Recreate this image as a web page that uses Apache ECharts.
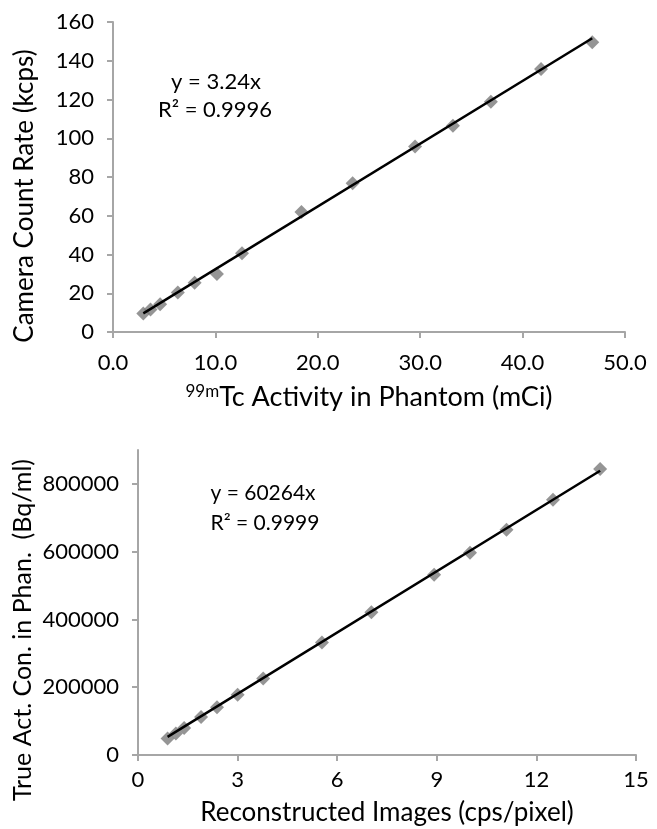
<!DOCTYPE html>
<html>
<head>
<meta charset="utf-8">
<script src="https://cdn.jsdelivr.net/npm/echarts@6/dist/echarts.min.js"></script>
<style>
html,body{margin:0;padding:0;background:#fff;}
#chart{width:657px;height:829px;}
</style>
</head>
<body>
<div id="chart"></div>
<script>
// Top chart: 99mTc activity vs camera count rate
var topActivity = [2.96, 3.66, 4.6, 6.33, 7.97, 10.15, 12.6, 18.4, 23.4, 29.5, 33.2, 36.9, 41.8, 46.8];
var topCountRate = [9.5, 11.6, 14.3, 20.4, 25.4, 29.9, 40.6, 62, 76.8, 95.8, 106.5, 118.8, 135.8, 149.6];
var topSlope = 3.24;
var topEqText = ['y = 3.24x', 'R² = 0.9996'];
var topYTitle = 'Camera Count Rate (kcps)';
var topYTicks = [0, 20, 40, 60, 80, 100, 120, 140, 160];
var topXTicks = [0, 10, 20, 30, 40, 50];

// Bottom chart: reconstructed images vs true activity concentration
var botRecon = [0.89, 1.14, 1.39, 1.9, 2.38, 3.0, 3.77, 5.54, 7.03, 8.92, 10.0, 11.1, 12.5, 13.92];
var botTrueAct = [48800, 63400, 80000, 112000, 141000, 177600, 226000, 331700, 421000, 531700, 597000, 665000, 753000, 844000];
var botSlope = 60264;
var botEqText = ['y = 60264x', 'R² = 0.9999'];
var botYTitle = 'True Act. Con. in Phan.  (Bq/ml)';
var botYTicks = [0, 200000, 400000, 600000, 800000];
var botXTicks = [0, 3, 6, 9, 12, 15];

var FONT = 'Lato';
var AXIS_COLOR = '#a6a6a6';
var MARK_COLOR = '#7a7a7a';

function pairs(xs, ys){ return xs.map(function(x,i){ return [x, ys[i]]; }); }
function fitLine(xs, slope){
  var lo = Math.min.apply(null, xs), hi = Math.max.apply(null, xs);
  return [[lo, lo*slope],[hi, hi*slope]];
}

var chart = echarts.init(document.getElementById('chart'), null, {renderer:'canvas'});

function makeAxis(opts, ticks, margin, fmt){
  return Object.assign({
    type:'value',
    axisLine:{show:true, lineStyle:{color:AXIS_COLOR, width:2}},
    axisTick:{show:true, inside:false, length:6, lineStyle:{color:AXIS_COLOR, width:2}, customValues:ticks},
    splitLine:{show:false},
    axisLabel:{color:'#000', fontFamily:FONT, fontSize:22, margin:margin, customValues:ticks,
      formatter: fmt || function(v){ return String(v); }}
  }, opts);
}

var xTop = makeAxis({
  gridIndex:0, min:0, max:50, interval:10,
  name:'{sup|99m}{t|Tc Activity in Phantom (mCi)}', nameLocation:'middle', nameGap:51,
  nameTextStyle:{rich:{sup:{fontFamily:FONT, fontSize:17, verticalAlign:'top', padding:[0,0,12,0], color:'#000'}, t:{fontFamily:FONT, fontSize:27, color:'#000'}}}
}, topXTicks, 20, function(v){ return v.toFixed(1); });
var yTop = makeAxis({
  gridIndex:0, min:0, max:160, interval:20
}, topYTicks, 19);
var xBot = makeAxis({
  gridIndex:1, min:0, max:15, interval:3,
  name:'Reconstructed Images (cps/pixel)', nameLocation:'middle', nameGap:45,
  nameTextStyle:{fontFamily:FONT, fontSize:26, color:'#000'}
}, botXTicks, 14);
var yBot = makeAxis({
  gridIndex:1, min:0, max:900000, interval:100000
}, botYTicks, 19);

function eqText(x, y, txt, size){
  return {type:'text', x:x, y:y, style:{text:txt, fontFamily:FONT, fontSize:size, fill:'#000', align:'center', verticalAlign:'middle'}};
}
function yTitle(x, y, txt, size){
  return {type:'text', x:x, y:y, rotation:Math.PI/2, style:{text:txt, fontFamily:FONT, fontSize:size, fill:'#000', align:'center', verticalAlign:'middle'}};
}

chart.setOption({
  animation:false,
  backgroundColor:'#fff',
  grid:[
    {left:113, right:32, top:22, bottom:497, containLabel:false},
    {left:138, right:21, top:450, bottom:74, containLabel:false}
  ],
  xAxis:[xTop, xBot],
  yAxis:[yTop, yBot],
  graphic:[
    eqText(216, 82, topEqText[0], 22),
    eqText(215, 110, topEqText[1], 22),
    eqText(263, 493, botEqText[0], 21),
    eqText(265, 523, botEqText[1], 21),
    yTitle(25, 196, topYTitle, 26),
    yTitle(23, 630, botYTitle, 25)
  ],
  series:[
    {type:'scatter', xAxisIndex:0, yAxisIndex:0, symbol:'diamond', symbolSize:14, itemStyle:{color:MARK_COLOR}, data:pairs(topActivity, topCountRate), z:2},
    {type:'line', xAxisIndex:0, yAxisIndex:0, showSymbol:false, symbol:'none', lineStyle:{color:'#000', width:2.5}, data:fitLine(topActivity, topSlope), z:3},
    {type:'scatter', xAxisIndex:1, yAxisIndex:1, symbol:'diamond', symbolSize:14, itemStyle:{color:MARK_COLOR}, data:pairs(botRecon, botTrueAct), z:2},
    {type:'line', xAxisIndex:1, yAxisIndex:1, showSymbol:false, symbol:'none', lineStyle:{color:'#000', width:2.5}, data:fitLine(botRecon, botSlope), z:3}
  ]
});
</script>
</body>
</html>
